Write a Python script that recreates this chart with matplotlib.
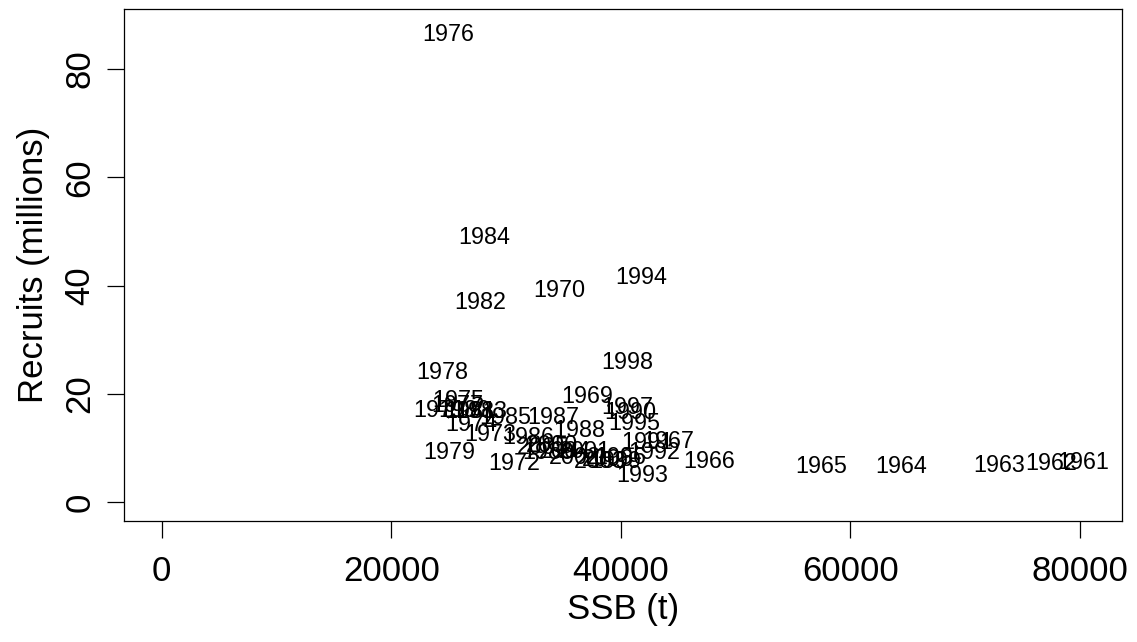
import numpy as np
import matplotlib
matplotlib.use('Agg')
from matplotlib import pyplot as plt

plt.rcParams['font.family'] = ['Liberation Sans', 'DejaVu Sans']

# 年份标签、产卵群体生物量 (t) 和补充量 (百万)
years = [1961, 1962, 1963, 1964, 1965, 1966, 1967, 1969, 1970, 1971,
         1972, 1973, 1974, 1975, 1976, 1977, 1978, 1979, 1980, 1981,
         1982, 1983, 1984, 1985, 1986, 1987, 1988, 1989, 1990, 1991,
         1992, 1993, 1994, 1995, 1996, 1997, 1998, 1999, 2000, 2001,
         2002, 2003, 2004, 2005, 2006]
ssb = [80259, 77471, 72942, 64404, 57435, 47678, 44106, 37050, 34611, 24157,
       30690, 28600, 26945, 25812, 24941, 25725, 24418, 25028, 26335, 26858,
       27729, 27816, 28077, 29907, 31910, 34088, 36353, 33652, 40796, 42277,
       42887, 41841, 41755, 41144, 39925, 40535, 40535, 39490, 34001, 36876,
       36005, 38183, 35133, 33217, 38880]
recruits = [7.40, 7.16, 6.79, 6.52, 6.52, 7.44, 11.13, 19.53, 39.01, 16.86,
            7.16, 12.43, 14.27, 18.70, 86.28, 17.78, 23.87, 9.20, 16.86, 16.67,
            36.80, 16.67, 48.80, 15.57, 11.87, 15.57, 13.16, 9.24, 16.58, 11.04,
            9.10, 4.86, 41.41, 14.46, 8.18, 17.50, 25.72, 7.44, 10.40, 9.29,
            8.18, 7.44, 9.29, 10.03, 7.81]

fig = plt.figure(figsize=(11.37, 6.42), dpi=100)
ax = fig.add_axes([0.1093, 0.188, 0.8778, 0.7975])

for yr, x, y in zip(years, ssb, recruits):
    ax.text(x, y, str(yr), ha='center', va='center', fontsize=16.8)

ax.set_xlim(-3258, 83684)
ax.set_ylim(-3.51, 91.0)
ax.set_xticks(np.arange(0, 80001, 20000))
ax.set_yticks(np.arange(0, 81, 20))
ax.set_xticklabels([str(v) for v in range(0, 80001, 20000)])
ax.set_yticklabels(['0', '20', '40', '60', '80'], rotation=90, va='center')
ax.tick_params(axis='both', length=12, width=0.9, labelsize=25)
ax.tick_params(axis='x', pad=12)
ax.tick_params(axis='y', pad=8)

for s in ax.spines.values():
    s.set_linewidth(0.9)

ax.set_xlabel('SSB (t)', fontsize=25, labelpad=4)
ax.set_ylabel('Recruits (millions)', fontsize=25, labelpad=10)

plt.savefig('out.png', dpi=100)
